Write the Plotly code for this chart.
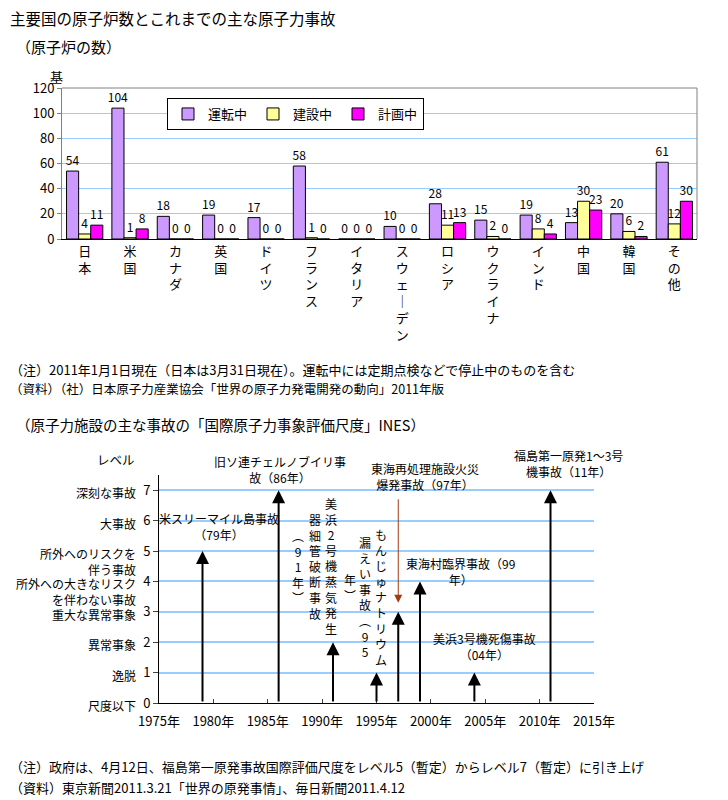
import plotly.graph_objects as go

# page body has an 8px margin, so the figure is drawn 8px in from the corner
OFF = 8
W, H = 728 - OFF, 800 - OFF
FONT = 'Noto Sans CJK JP'

# --- top chart data ---
countries = ['日本', '米国', 'カナダ', '英国', 'ドイツ', 'フランス', 'イタリア',
             'スウェーデン', 'ロシア', 'ウクライナ', 'インド', '中国', '韓国', 'その他']
operating = [54, 104, 18, 19, 17, 58, 0, 10, 28, 15, 19, 13, 20, 61]
building = [4, 1, 0, 0, 0, 1, 0, 0, 11, 2, 8, 30, 6, 12]
planned = [11, 8, 0, 0, 0, 0, 0, 0, 13, 0, 4, 23, 2, 30]
series_names = ['運転中', '建設中', '計画中']
series_colors = ['#CC99FF', '#FFFF99', '#FF00FF']

# --- bottom chart data ---
levels = [0, 1, 2, 3, 4, 5, 6, 7]
level_names = ['尺度以下', '逸脱', '異常事象', '重大な異常事象',
               '所外への大きなリスク<br>を伴わない事故', '所外へのリスクを<br>伴う事故',
               '大事故', '深刻な事故']
years = [1975, 1980, 1985, 1990, 1995, 2000, 2005, 2010, 2015]
acc_year = [1979, 1986, 1991, 1995, 1997, 1999, 2004, 2011]
acc_level = [5, 7, 2, 1, 3, 4, 1, 7]


def px_x(p):
    return (p - OFF) / W


def px_y(p):
    return 1 - (p - OFF) / H


def vert(s):
    return '<br>'.join(s)


fig = go.Figure()

for name, vals, col in zip(series_names, [operating, building, planned], series_colors):
    fig.add_trace(go.Bar(
        x=countries, y=vals, name=name,
        marker=dict(color=col, line=dict(color='black', width=1)),
        text=vals, textposition='outside', cliponaxis=False, constraintext='none',
        textangle=0,
        textfont=dict(size=12, color='black', family=FONT),
        xaxis='x', yaxis='y',
    ))

# arrows for INES accidents
annotations = []
for yr, lv in zip(acc_year, acc_level):
    annotations.append(dict(
        x=yr, y=lv, ax=yr, ay=0, xref='x2', yref='y2', axref='x2', ayref='y2',
        showarrow=True, arrowhead=2, arrowsize=1.3, arrowwidth=2,
        arrowcolor='black', text='',
    ))
# brown pointer for 東海再処理 label
annotations.append(dict(
    x=1997, y=3.3, ax=1997, ay=6.75, xref='x2', yref='y2', axref='x2', ayref='y2',
    showarrow=True, arrowhead=2, arrowsize=1.6, arrowwidth=1,
    arrowcolor='#A33A10', text='',
))

# level names left of the INES axis
for lv, nm in zip(levels, level_names):
    annotations.append(dict(
        x=px_x(138), y=lv, xref='paper', yref='y2', text=nm,
        xanchor='right', yanchor='top', yshift=8, align='right', showarrow=False,
        font=dict(size=12, family=FONT, color='black'),
    ))

# accident labels (horizontal): text, x (year), y (level), extra pixel shift
acc_labels = [
    ('米スリーマイル島事故<br>（79年）', 1980.55, 5.8, 0),
    ('旧ソ連チェルノブイリ事<br>故（86年）', 1986.1, 7.5, 6),
    ('東海再処理施設火災<br>爆発事故（97年）', 1999.5, 7.45, 0),
    ('福島第一原発1～3号<br>機事故（11年）', 2012.7, 7.5, 12),
    ('東海村臨界事故（99<br>年）', 2002.7, 4.34, 0),
    ('美浜3号機死傷事故<br>（04年）', 2004.9, 1.86, 0),
]
for txt, xx, yy, sh in acc_labels:
    annotations.append(dict(
        x=xx, y=yy, yshift=sh, xref='x2', yref='y2', text=txt, showarrow=False,
        yanchor='middle', font=dict(size=12, family=FONT, color='black'),
    ))

# vertical accident labels (columns, right to left)
vert_labels = [
    ('美浜2号機蒸気発生', 1990.8, 4.5),
    ('器細管破断事故', 1989.3, 4.5),
    ('︵91年︶', 1987.8, 4.5),
    ('もんじゅナトリウム', 1995.45, 3.5),
    ('漏えい事故︵95', 1993.95, 3.5),
    ('年︶', 1992.6, 3.8),
]
for txt, xx, yy in vert_labels:
    annotations.append(dict(
        x=xx, y=yy, xref='x2', yref='y2', text=vert(txt), showarrow=False,
        font=dict(size=12, family=FONT, color='black'),
    ))

# texts
texts = [
    ('主要国の原子炉数とこれまでの主な原子力事故', 8, 18, 15.5),
    ('（原子炉の数）', 14, 47, 15),
    ('基', 48, 76, 13),
    ('（注）2011年1月1日現在（日本は3月31日現在）。運転中には定期点検などで停止中のものを含む', 8, 369, 13),
    ('（資料）（社）日本原子力産業協会「世界の原子力発電開発の動向」2011年版', 8, 388, 12.5),
    ('（原子力施設の主な事故の「国際原子力事象評価尺度」INES）', 14, 424, 14.5),
    ('レベル', 95, 459, 12.5),
    ('（注）政府は、4月12日、福島第一原発事故国際評価尺度をレベル5（暫定）からレベル7（暫定）に引き上げ', 8, 766, 13),
    ('（資料）東京新聞2011.3.21「世界の原発事情」、毎日新聞2011.4.12', 8, 787, 13),
]
for txt, x0, y0, fs in texts:
    annotations.append(dict(
        x=px_x(x0), y=px_y(y0), xref='paper', yref='paper', text=txt,
        xanchor='left', yanchor='middle', showarrow=False,
        font=dict(size=fs, family=FONT, color='black'),
    ))

fig.update_layout(
    width=W, height=H,
    margin=dict(l=0, r=0, t=0, b=0, autoexpand=False),
    paper_bgcolor='white', plot_bgcolor='white',
    font=dict(family=FONT, color='black'),
    barmode='group', bargap=0.2, bargroupgap=0,
    legend=dict(
        orientation='h', x=px_x(167), y=px_y(98), xanchor='left', yanchor='top',
        bgcolor='white', bordercolor='black', borderwidth=1,
        font=dict(size=13, family=FONT), itemwidth=30,
        entrywidth=40, entrywidthmode='pixels',
        tracegroupgap=0,
    ),
    xaxis=dict(
        domain=[px_x(62), px_x(697)], anchor='y', automargin=False,
        tickmode='array', tickvals=countries,
        ticktext=[vert(c.replace('ー', '｜')) for c in countries],
        tickfont=dict(size=13, family=FONT), showline=True, linecolor='black',
        ticks='', fixedrange=True,
    ),
    yaxis=dict(
        domain=[px_y(239), px_y(88)], anchor='x', range=[0, 120], dtick=20,
        automargin=False,
        showgrid=True, gridcolor='#99CCFF', gridwidth=1,
        showline=True, linecolor='#808080', ticks='outside', ticklen=4,
        tickcolor='#808080', tickfont=dict(size=13, family=FONT),
        zeroline=False,
    ),
    xaxis2=dict(
        domain=[px_x(159), px_x(594)], anchor='y2', range=[1975, 2015],
        automargin=False,
        tickmode='array', tickvals=years, ticktext=[f'{y}年' for y in years],
        tickfont=dict(size=13, family=FONT),
        showline=True, linecolor='black', linewidth=1, ticks='inside', ticklen=4,
        showgrid=False, zeroline=False, ticklabelstandoff=6,
    ),
    yaxis2=dict(
        domain=[px_y(703), px_y(475)], anchor='x2', range=[0, 7.5],
        automargin=False,
        tickmode='array', tickvals=levels, ticktext=[str(v) for v in levels],
        tickfont=dict(size=13, family=FONT),
        showgrid=True, gridcolor='#99CCFF', gridwidth=1.5,
        showline=True, linecolor='black', ticks='outside', ticklen=5,
        zeroline=False,
    ),
    annotations=annotations,
    shapes=[
        # grey frame on top and right of the bar plot area
        dict(type='line', xref='paper', yref='paper', x0=px_x(62), x1=px_x(697),
             y0=px_y(88), y1=px_y(88), line=dict(color='#808080', width=1)),
        dict(type='line', xref='paper', yref='paper', x0=px_x(697), x1=px_x(697),
             y0=px_y(88), y1=px_y(239), line=dict(color='#808080', width=1)),
    ],
)

fig.write_html('out.html')
